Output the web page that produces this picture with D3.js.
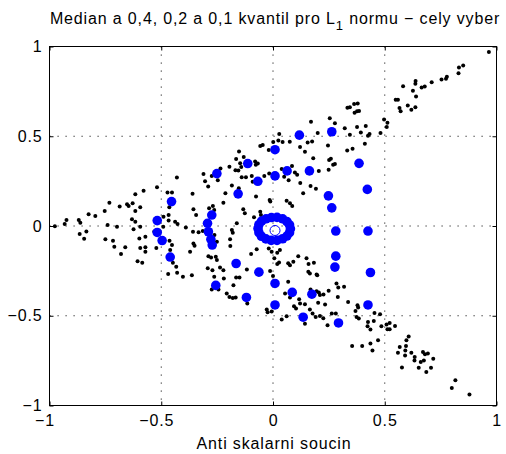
<!DOCTYPE html>
<html>
<head>
<meta charset="utf-8">
<script src="https://cdn.jsdelivr.net/npm/d3@7"></script>
<style>
  html, body { margin: 0; padding: 0; background: #fff; }
  svg text { font-family: "Liberation Sans", Arial, Helvetica, sans-serif; fill: #000; }
</style>
</head>
<body>
<svg id="chart"></svg>
<script>
// all observations (black dots), [anti skalarni soucin, y]
const sample = [
  [0.966,0.970],[0.832,0.883],[0.851,0.894],[0.830,0.851],[0.778,0.832],[0.774,0.821],[0.754,0.816],[0.710,0.801],
  [0.679,0.777],[0.665,0.771],[0.638,0.808],[0.637,0.792],[0.582,0.778],[0.626,0.753],[0.640,0.721],[0.559,0.704],
  [0.549,0.704],[0.603,0.672],[0.566,0.658],[0.571,0.639],[0.619,0.648],[0.637,0.661],[0.497,0.594],[0.512,0.575],
  [0.509,0.551],[0.481,0.518],[0.432,0.512],[0.425,0.503],[0.415,0.557],[0.393,0.521],[0.376,0.551],[0.344,0.508],
  [0.321,0.544],[0.333,0.659],[0.344,0.661],[0.363,0.680],[0.379,0.682],[0.365,0.631],[0.376,0.639],[0.385,0.641],
  [0.277,0.572],[0.254,0.600],[0.411,0.458],[0.356,0.430],[0.332,0.421],[0.269,0.341],[0.277,0.345],[0.259,0.374],
  [0.170,0.581],[0.200,0.518],[0.028,0.512],[0.001,0.468],[0.024,0.477],[0.043,0.468],[0.075,0.469],[0.155,0.465],
  [0.175,0.471],[0.121,0.440],[0.143,0.413],[0.246,0.449],[-0.046,0.451],[-0.057,0.445],[-0.019,0.423],[-0.152,0.415],
  [-0.165,0.373],[-0.131,0.384],[-0.147,0.350],[-0.080,0.359],[-0.068,0.348],[-0.077,0.341],[-0.195,0.330],[-0.168,0.311],
  [-0.155,0.309],[-0.142,0.328],[-0.140,0.272],[-0.121,0.272],[-0.095,0.279],[-0.091,0.247],[-0.039,0.279],[-0.017,0.292],
  [0.039,0.318],[0.050,0.275],[0.085,0.334],[0.098,0.298],[0.108,0.285],[0.070,0.255],[0.122,0.239],[0.180,0.378],
  [0.205,0.307],[0.251,0.367],[0.249,0.313],[-0.311,0.289],[-0.304,0.250],[-0.290,0.220],[-0.235,0.320],[-0.274,0.279],
  [-0.247,0.255],[-0.184,0.225],[-0.153,0.211],[0.192,0.208],[0.168,0.223],
  [-0.360,0.179],[-0.213,0.183],[-0.222,0.130],[-0.076,0.164],[-0.015,0.145],[-0.012,0.136],[0.061,0.141],[0.076,0.127],
  [0.086,0.112],[0.135,0.183],[-0.269,0.112],[-0.263,0.089],[-0.286,0.099],[-0.344,0.061],[-0.356,0.093],[-0.133,0.093],
  [-0.126,0.071],[-0.085,0.049],[-0.057,0.080],[-0.054,0.061],[-0.162,0.015],[-0.184,-0.022],[-0.180,-0.037],[-0.358,-0.032],
  [-0.333,-0.035],[-0.314,-0.028],[-0.356,-0.097],[-0.351,-0.110],[-0.262,-0.050],[-0.251,-0.088],[-0.192,-0.074],[-0.191,-0.112],
  [-0.371,-0.144],[-0.289,-0.168],[-0.277,-0.175],[-0.256,-0.172],[-0.251,-0.190],[-0.292,-0.236],[-0.271,-0.246],[-0.237,-0.231],
  [-0.222,-0.246],[-0.263,-0.283],[-0.220,-0.292],[-0.150,-0.287],[-0.117,-0.242],[-0.098,-0.156],[-0.073,-0.130],[-0.019,-0.125],
  [-0.006,-0.144],[0.019,-0.149],[0.031,-0.134],[0.006,-0.180],[0.027,-0.203],[-0.013,-0.250],[0.019,-0.212],[0.068,-0.208],
  [0.076,-0.218],[0.091,-0.199],[0.113,-0.168],[0.150,-0.180],[0.159,-0.212],[0.183,-0.205],[0.158,-0.255],[0.195,-0.270],
  [-0.363,-0.274],[-0.165,-0.287],[-0.177,-0.330],[-0.274,-0.354],[-0.244,-0.354],[-0.207,-0.376],[-0.195,-0.395],[-0.180,-0.401],
  [-0.167,-0.398],[-0.115,-0.432],[0.000,-0.279],[0.068,-0.311],[0.054,-0.376],[0.076,-0.398],[0.117,-0.408],[0.121,-0.432],
  [0.143,-0.436],[0.094,-0.447],[0.103,-0.460],[-0.028,-0.465],[-0.024,-0.480],[-0.006,-0.477],[0.039,-0.521],[0.061,-0.503],
  [0.165,-0.264],[0.198,-0.274],[0.165,-0.465],[0.177,-0.488],[0.191,-0.507],[0.210,-0.501],[0.225,-0.514],[0.244,-0.553],
  [0.143,-0.544],[0.168,-0.354],[0.195,-0.363],[0.205,-0.370],[0.210,-0.385],[0.226,-0.382],[0.202,-0.428],[0.233,-0.437],
  [0.249,-0.361],[0.284,-0.320],[0.292,-0.342],[0.318,-0.339],[0.290,-0.395],[0.336,-0.423],[0.263,-0.488],[0.281,-0.488],
  [0.369,-0.473],[0.378,-0.441],[0.384,-0.516],[0.374,-0.507],[0.354,-0.669],[0.399,-0.669],
  [0.381,-0.454],[0.425,-0.535],[0.423,-0.559],[0.436,-0.577],[0.451,-0.529],[0.454,-0.484],[0.479,-0.492],[0.485,-0.559],
  [0.508,-0.549],[0.522,-0.540],[0.512,-0.575],[0.522,-0.575],[0.546,-0.557],[0.436,-0.655],[0.445,-0.693],[0.470,-0.637],
  [0.607,-0.615],[0.597,-0.637],[0.567,-0.674],[0.559,-0.706],[0.592,-0.693],[0.595,-0.669],[0.591,-0.721],[0.619,-0.706],
  [0.634,-0.730],[0.633,-0.749],[0.652,-0.789],[0.661,-0.758],[0.671,-0.702],[0.680,-0.715],[0.693,-0.711],[0.675,-0.749],
  [0.717,-0.739],[0.707,-0.789],[0.686,-0.814],[0.577,-0.788],[0.800,-0.903],[0.816,-0.860],[0.879,-0.939],
  [-0.430,0.270],[-0.519,0.216],[-0.472,0.186],[-0.452,0.186],[-0.579,0.197],[-0.616,0.177],[-0.732,0.130],[-0.653,0.121],
  [-0.646,0.112],[-0.628,0.127],[-0.686,0.108],[-0.616,0.084],[-0.594,0.104],[-0.753,0.084],[-0.795,0.056],[-0.825,0.065],
  [-0.869,0.034],[-0.862,0.018],[-0.924,0.034],[-0.932,0.011],[-0.976,-0.002],[-0.740,0.006],[-0.698,-0.004],[-0.631,0.037],
  [-0.616,0.024],[-0.594,-0.004],[-0.624,-0.018],[-0.531,-0.030],[-0.490,0.052],[-0.467,0.061],[-0.464,0.104],[-0.467,0.030],
  [-0.438,0.024],[-0.427,0.011],[-0.390,-0.009],[-0.491,-0.004],[-0.865,-0.045],[-0.835,-0.030],[-0.845,-0.071],[-0.750,-0.074],
  [-0.716,-0.082],[-0.710,-0.116],[-0.661,-0.119],[-0.680,-0.156],[-0.598,-0.069],[-0.571,-0.060],[-0.594,-0.123],[-0.571,-0.119],
  [-0.571,-0.144],[-0.522,-0.123],[-0.606,-0.197],[-0.585,-0.205],[-0.463,-0.082],[-0.452,-0.106],[-0.460,-0.134],[-0.448,-0.205],
  [-0.433,-0.227],[-0.469,-0.268],[-0.429,-0.261],[-0.403,-0.283]
];

// quantile contours (blue)
const q04 = [
  [0.118,0.506],[0.263,0.525],[0.009,0.425],[-0.113,0.348],[-0.251,0.292],[0.385,0.349],[0.422,0.204],[0.425,-0.028],
  [0.436,-0.259],[-0.256,-0.331],[-0.119,-0.398],[0.009,-0.440],[0.086,-0.370],[0.174,-0.380],[0.135,-0.508],[0.293,-0.540],
  [0.425,-0.440],[-0.454,0.136],[-0.518,0.030],[-0.518,-0.036],[-0.496,-0.081],[-0.460,-0.173]
];
const q02 = [
  [-0.068,0.249],[0.009,0.279],[0.063,0.307],[0.163,0.307],[-0.156,0.179],[0.248,0.168],[0.263,0.101],[-0.274,0.061],
  [-0.293,0.015],[-0.289,-0.032],[-0.278,-0.074],[-0.272,-0.106],[0.281,-0.028],[0.281,-0.168],[0.277,-0.229],[-0.165,-0.209],
  [-0.063,-0.257],[0.009,-0.320]
];
const q01 = [
  [0.078,-0.016],[0.074,0.006],[0.062,0.025],[0.043,0.040],[0.018,0.048],[-0.007,0.047],[-0.031,0.040],[-0.051,0.027],
  [-0.063,0.008],[-0.067,-0.014],[-0.063,-0.037],[-0.052,-0.057],[-0.032,-0.072],[-0.008,-0.080],[0.018,-0.080],[0.043,-0.071],
  [0.062,-0.056],[0.074,-0.037]
];
const median = [[0.009,-0.025]];

const tickValues = [-1, -0.5, 0, 0.5, 1];

const width = 506, height = 454;
const margin = { left: 49.5, right: 9.5, top: 46.5, bottom: 48.5 };
const blue = '#0000ff';

const svg = d3.select('#chart')
  .attr('width', width)
  .attr('height', height);

const x = d3.scaleLinear().domain([-1, 1]).range([margin.left, width - margin.right]);
const y = d3.scaleLinear().domain([-1, 1]).range([height - margin.bottom, margin.top]);

const fmt = d3.format('~g');

// dotted grid
const grid = svg.append('g').attr('class', 'grid');
grid.selectAll('.gx')
  .data([-0.5, 0, 0.5])
  .enter().append('line')
  .attr('x1', d => x(d)).attr('x2', d => x(d))
  .attr('y1', y(1)).attr('y2', y(-1));
grid.selectAll('.gy')
  .data([-0.5, 0, 0.5])
  .enter().append('line')
  .attr('y1', d => y(d)).attr('y2', d => y(d))
  .attr('x1', x(-1)).attr('x2', x(1));
grid.selectAll('line')
  .attr('stroke', '#222')
  .attr('stroke-width', 1)
  .attr('stroke-dasharray', '1.2 6.8');

// data
const plot = svg.append('g');
plot.selectAll('.dot')
  .data(sample)
  .enter().append('circle')
  .attr('cx', d => x(d[0]))
  .attr('cy', d => y(d[1]))
  .attr('r', 2)
  .attr('fill', '#000');

plot.selectAll('.q')
  .data(q04.concat(q02, q01))
  .enter().append('circle')
  .attr('cx', d => x(d[0]))
  .attr('cy', d => y(d[1]))
  .attr('r', 4.8)
  .attr('fill', blue);

plot.selectAll('.med')
  .data(median)
  .enter().append('circle')
  .attr('cx', d => x(d[0]))
  .attr('cy', d => y(d[1]))
  .attr('r', 5)
  .attr('fill', 'none')
  .attr('stroke', blue)
  .attr('stroke-width', 1);

// axes, ticks inside on all four sides
const styleAxis = g => {
  g.select('.domain').remove();
  g.selectAll('.tick line').attr('stroke', '#000');
  g.selectAll('text')
    .style('font-size', '16px')
    .style('letter-spacing', '0.85px');
};

svg.append('g')
  .attr('transform', `translate(0,${y(-1)})`)
  .call(d3.axisBottom(x).tickValues(tickValues).tickSizeInner(-4).tickSizeOuter(0).tickPadding(9).tickFormat(fmt))
  .call(styleAxis)
  .call(g => g.selectAll('text').attr('dx', d => d < 0 ? -5 : 0));

svg.append('g')
  .attr('transform', `translate(0,${y(1)})`)
  .call(d3.axisTop(x).tickValues(tickValues).tickSizeInner(-4).tickSizeOuter(0).tickFormat(''))
  .call(styleAxis);

svg.append('g')
  .attr('transform', `translate(${x(-1)},0)`)
  .call(d3.axisLeft(y).tickValues(tickValues).tickSizeInner(-4).tickSizeOuter(0).tickPadding(7).tickFormat(fmt))
  .call(styleAxis);

svg.append('g')
  .attr('transform', `translate(${x(1)},0)`)
  .call(d3.axisRight(y).tickValues(tickValues).tickSizeInner(-4).tickSizeOuter(0).tickFormat(''))
  .call(styleAxis);

// box
svg.append('rect')
  .attr('x', x(-1)).attr('y', y(1))
  .attr('width', x(1) - x(-1))
  .attr('height', y(-1) - y(1))
  .attr('fill', 'none')
  .attr('stroke', '#000')
  .attr('stroke-width', 1);

// title with subscript
const title = svg.append('text')
  .attr('x', 275)
  .attr('y', 24)
  .attr('text-anchor', 'middle')
  .style('font-size', '16px')
  .style('letter-spacing', '0.85px');
title.append('tspan').text('Median a 0,4, 0,2 a 0,1 kvantil pro L');
title.append('tspan').attr('dy', 6).style('font-size', '13px').text('1');
title.append('tspan').attr('dy', -6).text(' normu \u2212 cely vyber');

// x label
svg.append('text')
  .attr('x', x(0) + 1)
  .attr('y', 449)
  .attr('text-anchor', 'middle')
  .style('font-size', '16px')
  .style('letter-spacing', '0.85px')
  .text('Anti skalarni soucin');
</script>
</body>
</html>
